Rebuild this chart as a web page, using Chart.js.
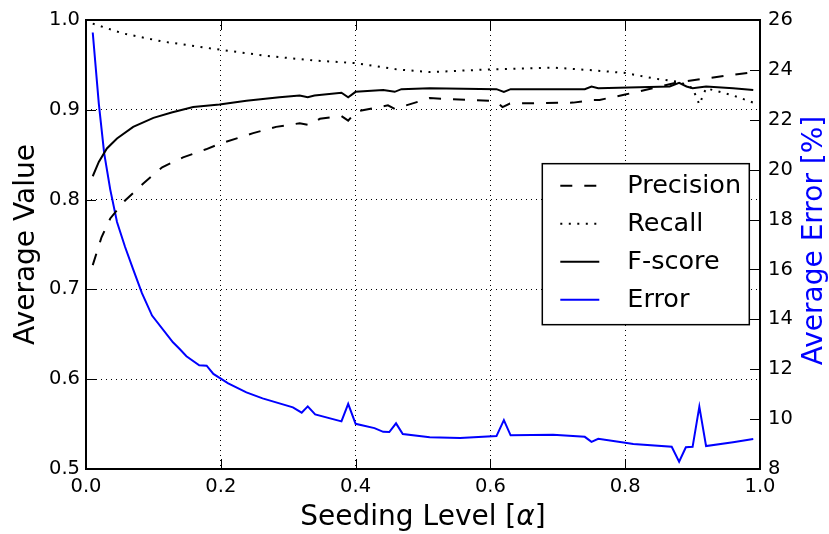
<!DOCTYPE html>
<html>
<head>
<meta charset="utf-8">
<script src="https://cdn.jsdelivr.net/npm/chart.js@4/dist/chart.umd.min.js"></script>
<style>
  html, body { margin: 0; padding: 0; background: #fff; }
  canvas { display: block; }
</style>
</head>
<body>
<canvas id="chart" width="829" height="534"></canvas>
<script>
// Valores
const xTicks = [0.0, 0.2, 0.4, 0.6, 0.8, 1.0];
const yTicks = [0.5, 0.6, 0.7, 0.8, 0.9, 1.0];
const y2Ticks = [8, 10, 12, 14, 16, 18, 20, 22, 24, 26];

const precisionX = [0.01, 0.023, 0.036, 0.058, 0.085, 0.113, 0.144, 0.178, 0.198, 0.248, 0.282, 0.317, 0.332, 0.347, 0.379, 0.389, 0.401, 0.448, 0.458, 0.51, 0.599, 0.609, 0.618, 0.629, 0.723, 0.752, 0.762, 0.80, 0.881, 0.99];
const precisionY = [0.727, 0.758, 0.779, 0.799, 0.818, 0.836, 0.847, 0.856, 0.862, 0.874, 0.881, 0.885, 0.883, 0.890, 0.893, 0.888, 0.898, 0.905, 0.901, 0.913, 0.910, 0.909, 0.903, 0.907, 0.908, 0.911, 0.911, 0.917, 0.931, 0.942];

const recallX = [0.01, 0.055, 0.114, 0.198, 0.268, 0.337, 0.40, 0.461, 0.51, 0.599, 0.693, 0.752, 0.80, 0.842, 0.881, 0.90, 0.91, 0.92, 0.96, 0.99];
const recallY = [0.996, 0.985, 0.976, 0.967, 0.960, 0.955, 0.952, 0.945, 0.942, 0.945, 0.947, 0.944, 0.941, 0.935, 0.931, 0.924, 0.906, 0.924, 0.916, 0.908];

const fscoreX = [0.01, 0.019, 0.031, 0.046, 0.07, 0.1, 0.127, 0.159, 0.198, 0.238, 0.287, 0.317, 0.329, 0.339, 0.379, 0.389, 0.40, 0.441, 0.458, 0.468, 0.51, 0.609, 0.62, 0.63, 0.74, 0.75, 0.76, 0.866, 0.88, 0.891, 0.90, 0.92, 0.96, 0.99];
const fscoreY = [0.826, 0.842, 0.857, 0.868, 0.881, 0.891, 0.897, 0.903, 0.906, 0.910, 0.914, 0.916, 0.914, 0.916, 0.919, 0.914, 0.920, 0.922, 0.920, 0.923, 0.924, 0.923, 0.920, 0.923, 0.923, 0.926, 0.924, 0.926, 0.930, 0.926, 0.924, 0.926, 0.924, 0.922];

const errorX = [0.01, 0.019, 0.027, 0.036, 0.046, 0.058, 0.07, 0.083, 0.098, 0.129, 0.139, 0.149, 0.168, 0.179, 0.189, 0.211, 0.238, 0.262, 0.307, 0.32, 0.329, 0.34, 0.379, 0.389, 0.40, 0.428, 0.441, 0.45, 0.46, 0.47, 0.51, 0.555, 0.609, 0.62, 0.63, 0.693, 0.74, 0.75, 0.76, 0.80, 0.812, 0.869, 0.88, 0.89, 0.90, 0.91, 0.92, 0.96, 0.99];
const errorY = [25.5, 22.65, 20.65, 19.2, 17.9, 16.9, 16.0, 15.05, 14.15, 13.08, 12.81, 12.52, 12.16, 12.14, 11.81, 11.43, 11.07, 10.83, 10.47, 10.26, 10.51, 10.19, 9.91, 10.61, 9.81, 9.64, 9.49, 9.48, 9.83, 9.40, 9.27, 9.24, 9.32, 9.96, 9.35, 9.37, 9.29, 9.09, 9.21, 9.05, 9.0, 8.89, 8.29, 8.87, 8.89, 10.5, 8.92, 9.07, 9.2];

const FONT = "'DejaVu Sans', sans-serif";

function toPoints(xs, ys) {
    return xs.map(function(x, i) { return { x: x, y: ys[i] }; });
}

// Leyenda, marco y ticks hacia dentro al estilo matplotlib
const decorPlugin = {
    id: 'decor',
    afterDraw: function(chart) {
        const ctx = chart.ctx;
        const a = chart.chartArea;
        const sx = chart.scales.x, sy = chart.scales.y, sy2 = chart.scales.y2;
        const tl = 10;

        ctx.save();
        ctx.strokeStyle = '#000';
        ctx.lineWidth = 1;
        ctx.setLineDash([]);
        ctx.beginPath();
        xTicks.forEach(function(v) {
            const px = Math.round(sx.getPixelForValue(v)) + 0.5;
            ctx.moveTo(px, a.bottom); ctx.lineTo(px, a.bottom - tl);
            ctx.moveTo(px, a.top); ctx.lineTo(px, a.top + tl);
        });
        yTicks.forEach(function(v) {
            const py = Math.round(sy.getPixelForValue(v)) + 0.5;
            ctx.moveTo(a.left, py); ctx.lineTo(a.left + tl, py);
        });
        y2Ticks.forEach(function(v) {
            const py = Math.round(sy2.getPixelForValue(v)) + 0.5;
            ctx.moveTo(a.right, py); ctx.lineTo(a.right - tl, py);
        });
        ctx.stroke();

        // marco
        ctx.lineWidth = 2;
        ctx.strokeRect(a.left, a.top, a.right - a.left, a.bottom - a.top);

        // leyenda
        const lx = a.left + (a.right - a.left) * 0.677;
        const ly = a.top + (a.bottom - a.top) * 0.32;
        const lw = 207, lh = 161;
        ctx.fillStyle = '#fff';
        ctx.fillRect(lx, ly, lw, lh);
        ctx.lineWidth = 1.5;
        ctx.strokeRect(lx, ly, lw, lh);

        const items = [
            { label: 'Precision', color: '#000', dash: [12, 12] },
            { label: 'Recall', color: '#000', dash: [2, 6.5] },
            { label: 'F-score', color: '#000', dash: [] },
            { label: 'Error', color: '#0000ff', dash: [] }
        ];
        ctx.font = '25.5px ' + FONT;
        ctx.textBaseline = 'middle';
        ctx.textAlign = 'left';
        items.forEach(function(it, i) {
            const cy = ly + 22 + i * 38;
            ctx.strokeStyle = it.color;
            ctx.lineWidth = 2;
            ctx.setLineDash(it.dash);
            ctx.beginPath();
            ctx.moveTo(lx + 18, cy); ctx.lineTo(lx + 57, cy);
            ctx.stroke();
            ctx.setLineDash([]);
            ctx.fillStyle = '#000';
            ctx.fillText(it.label, lx + 85, cy + 1);
        });

        // títulos de los ejes
        const TS = 28;
        ctx.font = TS + 'px ' + FONT;
        ctx.textBaseline = 'alphabetic';
        ctx.textAlign = 'center';
        const midY = (a.top + a.bottom) / 2;

        ctx.save();
        ctx.translate(34, midY);
        ctx.rotate(-Math.PI / 2);
        ctx.fillStyle = '#000';
        ctx.fillText('Average Value', 0, 0);
        ctx.restore();

        ctx.save();
        ctx.translate(822, midY - 4);
        ctx.rotate(-Math.PI / 2);
        ctx.fillStyle = '#0000ff';
        ctx.fillText('Average Error [%]', 0, 0);
        ctx.restore();

        // "Seeding Level [α]" con alfa en cursiva
        const p1 = 'Seeding Level [', p2 = '\u03b1', p3 = ']';
        ctx.font = TS + 'px ' + FONT;
        const w1 = ctx.measureText(p1).width, w3 = ctx.measureText(p3).width;
        ctx.font = 'italic ' + TS + 'px ' + FONT;
        const w2 = ctx.measureText(p2).width;
        const tx = (a.left + a.right) / 2 - (w1 + w2 + w3) / 2;
        const ty = 525;
        ctx.textAlign = 'left';
        ctx.fillStyle = '#000';
        ctx.font = TS + 'px ' + FONT;
        ctx.fillText(p1, tx, ty);
        ctx.font = 'italic ' + TS + 'px ' + FONT;
        ctx.fillText(p2, tx + w1, ty);
        ctx.font = TS + 'px ' + FONT;
        ctx.fillText(p3, tx + w1 + w2, ty);
        ctx.restore();
    }
};

const tickFont = { family: FONT, size: 19.5 };

new Chart(document.getElementById('chart'), {
    type: 'line',
    data: {
        datasets: [
            {
                label: 'Precision',
                data: toPoints(precisionX, precisionY),
                yAxisID: 'y',
                borderColor: '#000',
                borderWidth: 2,
                borderDash: [12, 12],
                pointRadius: 0,
                tension: 0
            },
            {
                label: 'Recall',
                data: toPoints(recallX, recallY),
                yAxisID: 'y',
                borderColor: '#000',
                borderWidth: 2,
                borderDash: [2, 6.5],
                pointRadius: 0,
                tension: 0
            },
            {
                label: 'F-score',
                data: toPoints(fscoreX, fscoreY),
                yAxisID: 'y',
                borderColor: '#000',
                borderWidth: 2,
                pointRadius: 0,
                tension: 0
            },
            {
                label: 'Error',
                data: toPoints(errorX, errorY),
                yAxisID: 'y2',
                borderColor: '#0000ff',
                borderWidth: 2,
                pointRadius: 0,
                tension: 0
            }
        ]
    },
    options: {
        responsive: false,
        animation: false,
        layout: { padding: { top: 20, left: 0, right: 0, bottom: 0 } },
        plugins: {
            legend: { display: false },
            tooltip: { enabled: false }
        },
        scales: {
            x: {
                type: 'linear',
                min: 0,
                max: 1,
                afterFit: function(scale) { scale.height = 65; },
                afterBuildTicks: function(scale) {
                    scale.ticks = xTicks.map(function(v) { return { value: v }; });
                },
                grid: { color: '#000', lineWidth: 1, drawTicks: false },
                border: { display: false, dash: [1, 4] },
                ticks: {
                    font: tickFont,
                    color: '#000',
                    padding: 6,
                    maxRotation: 0,
                    callback: function(v) { return Number(v).toFixed(1); }
                }
            },
            y: {
                position: 'left',
                min: 0.5,
                max: 1.0,
                afterFit: function(scale) { scale.width = 86; },
                afterBuildTicks: function(scale) {
                    scale.ticks = yTicks.map(function(v) { return { value: v }; });
                },
                grid: { color: '#000', lineWidth: 1, drawTicks: false },
                border: { display: false, dash: [1, 4] },
                ticks: {
                    font: tickFont,
                    color: '#000',
                    padding: 6,
                    callback: function(v) { return Number(v).toFixed(1); }
                }
            },
            y2: {
                position: 'right',
                min: 8,
                max: 26,
                afterFit: function(scale) { scale.width = 69; },
                afterBuildTicks: function(scale) {
                    scale.ticks = y2Ticks.map(function(v) { return { value: v }; });
                },
                grid: { display: false, drawTicks: false },
                border: { display: false },
                ticks: {
                    font: tickFont,
                    color: '#000',
                    padding: 8,
                    callback: function(v) { return String(v); }
                }
            }
        }
    },
    plugins: [decorPlugin]
});
</script>
</body>
</html>
